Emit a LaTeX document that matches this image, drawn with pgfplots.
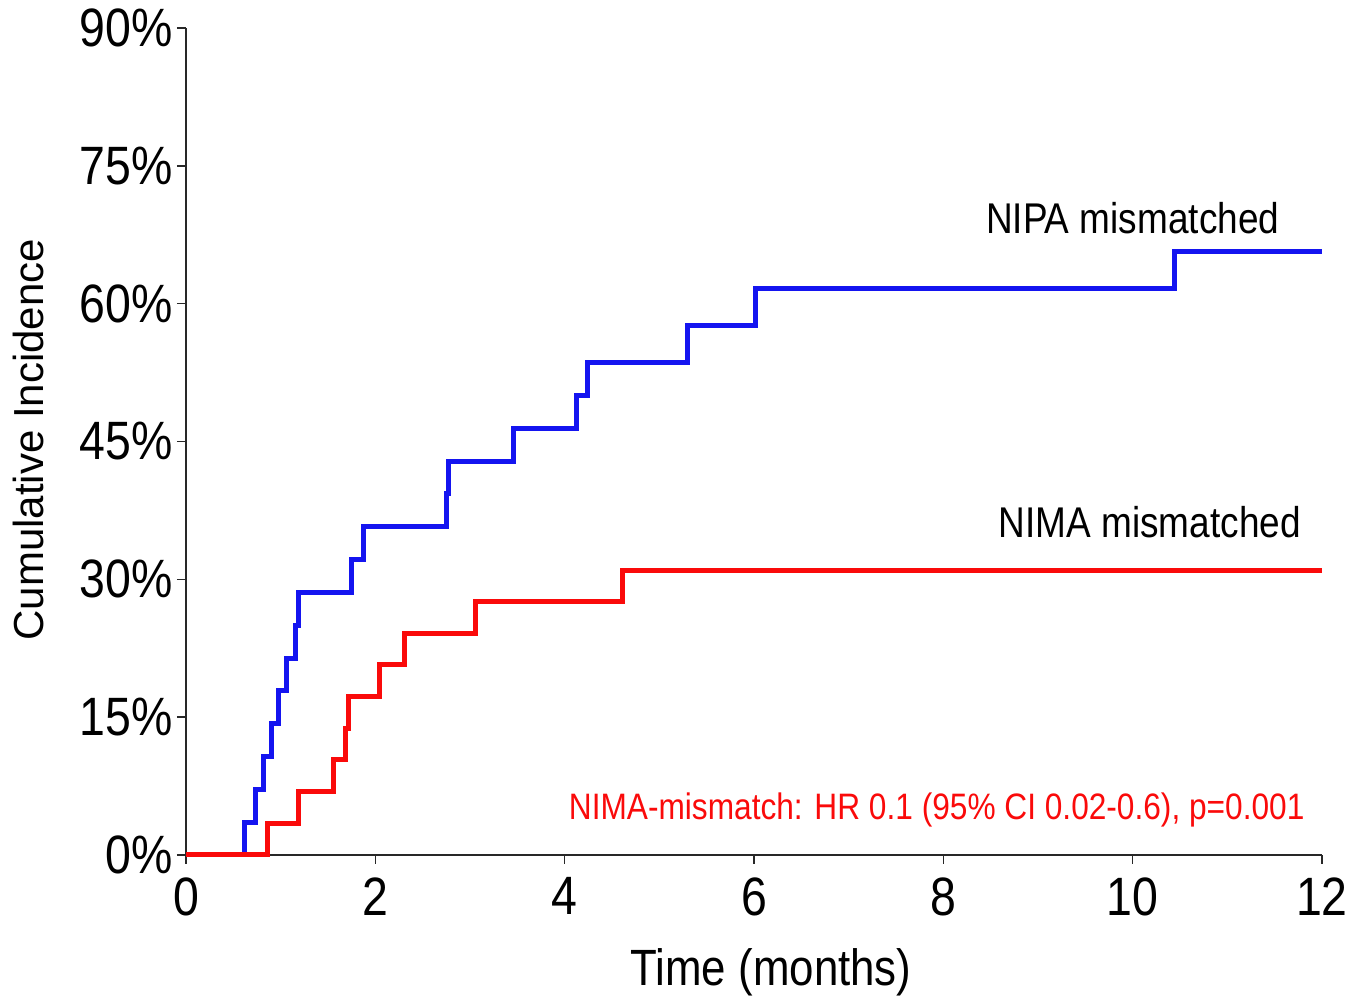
\documentclass[border=0pt]{standalone}
\usepackage{fontspec}
\setmainfont{Liberation Sans}[FakeStretch=0.86]
\newfontfamily\ylabfont{Liberation Sans}
\usepackage{pgfplots}
\pgfplotsset{compat=1.18}

\definecolor{kmblue}{RGB}{20,20,240}
\definecolor{kmred}{RGB}{250,10,10}
\definecolor{axisgray}{RGB}{40,40,40}

\begin{document}
\begin{tikzpicture}
% 1pt here = 1px of the reference
\useasboundingbox (-186pt,-145pt) rectangle (1182pt,855pt);
\begin{axis}[
at={(0pt,0pt)}, anchor=south west,
width=1136pt, height=827pt, scale only axis,
axis lines*=left,
axis line style={axisgray, line width=1.8pt},
xmin=0, xmax=12, ymin=0, ymax=90,
xtick={0,2,...,12},
ytick={0,15,...,90},
tick align=outside,
major tick length=9pt,
tick style={axisgray, line width=1.6pt},
yticklabel={\pgfmathprintnumber{\tick}\%},
/pgf/number format/assume math mode=true,
ticklabel style={font=\fontsize{54}{60}\selectfont},
xticklabel style={yshift=-10pt},
yticklabel style={xshift=-1pt},
clip=false,
]
% NIPA mismatched
\addplot[const plot, kmblue, line width=5pt] coordinates {
(0,0) (0.62,3.57) (0.73,7.14) (0.82,10.71) (0.905,14.29) (0.975,17.86)
(1.06,21.43) (1.16,25.00) (1.19,28.57) (1.75,32.14) (1.87,35.71)
(2.75,39.29) (2.77,42.86) (3.46,46.43) (4.12,50.00) (4.24,53.6)
(5.30,57.6) (6.02,61.6) (10.44,65.7) (12,65.7)
};
% NIMA mismatched
\addplot[const plot, kmred, line width=5pt] coordinates {
(0,0) (0.86,3.45) (1.19,6.90) (1.56,10.34) (1.69,13.79) (1.72,17.24)
(2.04,20.69) (2.31,24.14) (3.06,27.6) (4.61,31.0) (12,31.0)
};
\node[font=\fontsize{43}{48}\selectfont, black] at (axis cs:10.0,69.3) {NIPA mismatched};
\node[font=\fontsize{43}{48}\selectfont, black] at (axis cs:10.18,36.2) {NIMA mismatched};
\node[font=\fontsize{36.8}{42}\selectfont, kmred] at (axis cs:7.93,4.9) {NIMA-mismatch: HR 0.1 (95\% CI 0.02-0.6), p=0.001};
\node[font=\fontsize{51}{58}\selectfont] at (axis description cs:0.515,-0.1415) {Time (months)};
\node[font=\fontsize{42}{48}\selectfont\ylabfont, rotate=90] at (axis description cs:-0.139,0.502) {Cumulative Incidence};
\end{axis}
\end{tikzpicture}
\end{document}
